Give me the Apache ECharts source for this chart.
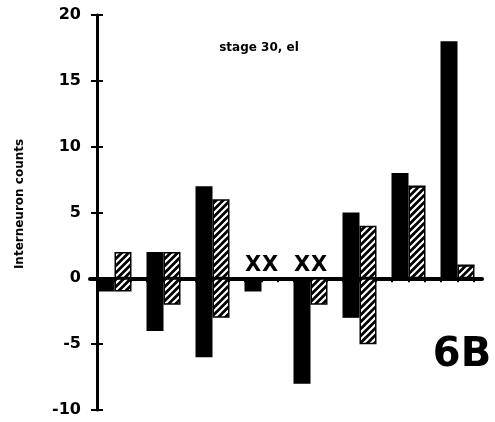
<!DOCTYPE html>
<html>
<head>
<meta charset="utf-8">
<script src="https://cdn.jsdelivr.net/npm/echarts@6/dist/echarts.min.js"></script>
<style>html,body{margin:0;padding:0;background:#fff}#c{width:495px;height:422px}</style>
</head>
<body>
<div id="c"></div>
<script>
const categories = ['1', '2', '3', '4', '5', '6', '7', '8'];
const blackPos = [0, 2, 7, 0, 0, 5, 8, 18];
const blackNeg = [-1, -4, -6, -1, -8, -3, 0, 0];
const hatchPos = [2, 2, 6, 0, 0, 4, 7, 1];
const hatchNeg = [-1, -2, -3, 0, -2, -5, 0, 0];
const blackMark = ['', '', '', 'X', 'X', '', '', ''];
const hatchMark = ['', '', '', 'X', 'X', '', '', ''];
const yTicks = [-10, -5, 0, 5, 10, 15, 20];
const tickSlots = ['t1','t2','t3','t4','t5','t6','t7','t8','t9','t10','t11','t12','t13','t14','t15','t16','t17','t18','t19','t20','t21','t22','t23','t24'];

const FONT = 'DejaVu Sans, Liberation Sans, Arial, sans-serif';

// hatch pattern
const pc = document.createElement('canvas');
pc.width = 7; pc.height = 7;
const ctx = pc.getContext('2d');
ctx.fillStyle = '#000';
ctx.fillRect(0, 0, 7, 7);
ctx.strokeStyle = '#fff';
ctx.lineWidth = 2.2;
ctx.beginPath();
ctx.moveTo(-2, 9); ctx.lineTo(9, -2);
ctx.moveTo(-9, 9); ctx.lineTo(2, -2);
ctx.moveTo(5, 9); ctx.lineTo(16, -2);
ctx.stroke();
const hatch = { image: pc, repeat: 'repeat' };

function withMarks(vals, marks) {
  return vals.map((v, i) => marks[i] ? {
    value: v,
    label: { show: true, formatter: marks[i], position: 'top', distance: 2,
      color: '#000', fontSize: 21, fontWeight: 'bold', fontFamily: FONT }
  } : v);
}

const chart = echarts.init(document.getElementById('c'), null, { renderer: 'canvas' });
chart.setOption({
  animation: false,
  backgroundColor: '#fff',
  grid: { left: 90, right: 13, top: 15, bottom: 12 },
  xAxis: [{
    type: 'category',
    data: categories,
    axisLine: { show: true, onZero: true, lineStyle: { color: '#000', width: 4 } },
    axisTick: { show: false },
    axisLabel: { show: false },
    splitLine: { show: false }
  }, {
    type: 'category',
    data: tickSlots,
    position: 'bottom',
    axisLine: { show: false, onZero: true, onZeroAxisIndex: 0 },
    axisTick: { show: true, alignWithLabel: true, interval: 0, length: 4, lineStyle: { color: '#000', width: 2 } },
    axisLabel: { show: false, interval: 0 },
    splitLine: { show: false }
  }],
  yAxis: [{
    type: 'value',
    min: -10, max: 20, interval: 5,
    offset: -7,
    axisLine: { show: true, onZero: false, lineStyle: { color: '#000', width: 3 } },
    axisTick: { show: true, length: 6, lineStyle: { color: '#000', width: 2 } },
    splitLine: { show: false },
    axisLabel: {
      margin: 16,
      color: '#000', fontSize: 16, fontWeight: 'bold',
      fontFamily: FONT,
      formatter: v => yTicks.includes(v) ? String(v) : ''
    }
  }, {
    type: 'value',
    position: 'left',
    min: -10, max: 20, interval: 5,
    offset: -7,
    axisLine: { show: false, onZero: false },
    axisTick: { show: true, inside: true, length: 6, lineStyle: { color: '#000', width: 2 } },
    splitLine: { show: false },
    axisLabel: { show: false }
  }],
  series: [
    { name: 'black+', type: 'bar', stack: 'b', data: withMarks(blackPos, blackMark), barWidth: 17, barGap: '0%',
      itemStyle: { color: '#000' } },
    { name: 'black-', type: 'bar', stack: 'b', data: blackNeg, barWidth: 17, barGap: '0%',
      itemStyle: { color: '#000' } },
    { name: 'hatch+', type: 'bar', stack: 'h', data: withMarks(hatchPos, hatchMark), barWidth: 17, barGap: '0%',
      itemStyle: { color: hatch, borderColor: '#000', borderWidth: 1.5 } },
    { name: 'hatch-', type: 'bar', stack: 'h', data: hatchNeg, barWidth: 17, barGap: '0%',
      itemStyle: { color: hatch, borderColor: '#000', borderWidth: 1.5 } }
  ],
  graphic: [
    { type: 'text', rotation: Math.PI / 2,
      x: 20, y: 204, style: { text: 'Interneuron counts', fill: '#000', font: 'bold 12px ' + FONT,
      align: 'center', verticalAlign: 'middle' } },
    { type: 'text', x: 259, y: 48, style: { text: 'stage 30, el', fill: '#000', font: 'bold 12px ' + FONT,
      align: 'center', verticalAlign: 'middle' } },
    { type: 'text', x: 462, y: 356, style: { text: '6B', fill: '#000', font: 'bold 40px ' + FONT,
      align: 'center', verticalAlign: 'middle' } }
  ]
});
</script>
</body>
</html>
